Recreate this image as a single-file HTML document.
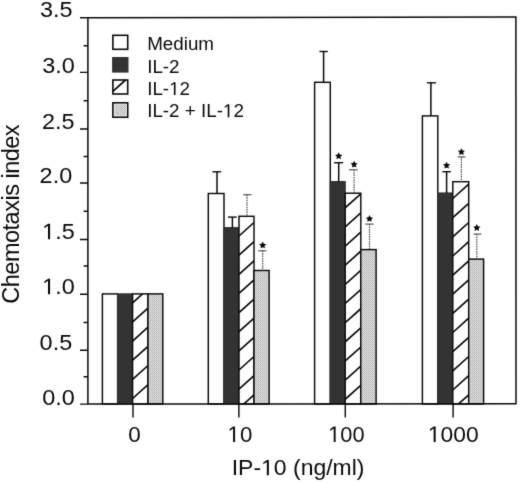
<!DOCTYPE html>
<html><head><meta charset="utf-8"><title>Chemotaxis index</title>
<style>html,body{margin:0;padding:0;background:#fff;}body{width:520px;height:483px;overflow:hidden;}svg{display:block;}text{font-family:"Liberation Sans",sans-serif;fill:#0a0a0a;font-kerning:none;white-space:pre;}</style>
</head><body>
<svg width="520" height="483" viewBox="0 0 520 483">
<defs>
<pattern id="dots" width="2" height="2" patternUnits="userSpaceOnUse"><rect width="2" height="2" fill="#dedede"/><rect width="1" height="1" fill="#b0b0b0"/><rect x="1" y="1" width="1" height="1" fill="#c4c4c4"/></pattern>
</defs>
<filter id="soft" x="0" y="0" width="520" height="483" filterUnits="userSpaceOnUse" color-interpolation-filters="sRGB"><feConvolveMatrix order="3" kernelMatrix="0.0113 0.0838 0.0113 0.0838 0.6193 0.0838 0.0113 0.0838 0.0113" edgeMode="duplicate" preserveAlpha="true"/></filter>
<g filter="url(#soft)">
<rect x="-5" y="-5" width="530" height="493" fill="#ffffff"/>
<rect x="102.4" y="293.9" width="15.2" height="110.1" fill="#fff" stroke="#0a0a0a" stroke-width="1.45"/>
<rect x="117.6" y="293.9" width="15.0" height="110.1" fill="#333333" stroke="#333333" stroke-width="1.2"/>
<clipPath id="c1"><rect x="132.6" y="293.9" width="15.4" height="110.1"/></clipPath>
<rect x="132.6" y="293.9" width="15.4" height="110.1" fill="#fff" stroke="#0a0a0a" stroke-width="1.45"/>
<path d="M132.6 302.8L148.0 288.9M132.6 321.9L148.0 308.1M132.6 341.1L148.0 327.2M132.6 360.2L148.0 346.4M132.6 379.4L148.0 365.5M132.6 398.5L148.0 384.7M132.6 417.7L148.0 403.8" stroke="#0a0a0a" stroke-width="1.65" fill="none" clip-path="url(#c1)"/>
<rect x="148.0" y="293.9" width="14.8" height="110.1" fill="url(#dots)" stroke="#0a0a0a" stroke-width="1.45"/>
<rect x="208.3" y="193.5" width="15.7" height="210.5" fill="#fff" stroke="#0a0a0a" stroke-width="1.45"/>
<rect x="224.0" y="227.7" width="15.0" height="176.3" fill="#333333" stroke="#333333" stroke-width="1.2"/>
<clipPath id="c2"><rect x="239.0" y="216.3" width="15.0" height="187.7"/></clipPath>
<rect x="239.0" y="216.3" width="15.0" height="187.7" fill="#fff" stroke="#0a0a0a" stroke-width="1.45"/>
<path d="M239.0 216.8L254.0 203.3M239.0 236.0L254.0 222.5M239.0 255.2L254.0 241.7M239.0 274.3L254.0 260.8M239.0 293.4L254.0 279.9M239.0 312.6L254.0 299.1M239.0 331.7L254.0 318.2M239.0 350.9L254.0 337.4M239.0 370.0L254.0 356.5M239.0 389.2L254.0 375.7M239.0 408.3L254.0 394.8" stroke="#0a0a0a" stroke-width="1.65" fill="none" clip-path="url(#c2)"/>
<rect x="254.0" y="270.5" width="15.1" height="133.5" fill="url(#dots)" stroke="#0a0a0a" stroke-width="1.45"/>
<rect x="314.6" y="82.3" width="15.7" height="321.7" fill="#fff" stroke="#0a0a0a" stroke-width="1.45"/>
<rect x="330.3" y="181.6" width="14.9" height="222.4" fill="#333333" stroke="#333333" stroke-width="1.2"/>
<clipPath id="c3"><rect x="345.2" y="193.2" width="15.6" height="210.8"/></clipPath>
<rect x="345.2" y="193.2" width="15.6" height="210.8" fill="#fff" stroke="#0a0a0a" stroke-width="1.45"/>
<path d="M345.2 207.8L360.8 193.8M345.2 227.0L360.8 212.9M345.2 246.1L360.8 232.1M345.2 265.2L360.8 251.2M345.2 284.4L360.8 270.4M345.2 303.5L360.8 289.5M345.2 322.7L360.8 308.7M345.2 341.8L360.8 327.8M345.2 361.0L360.8 347.0M345.2 380.1L360.8 366.1M345.2 399.3L360.8 385.3M345.2 418.4L360.8 404.4" stroke="#0a0a0a" stroke-width="1.65" fill="none" clip-path="url(#c3)"/>
<rect x="360.8" y="249.6" width="15.3" height="154.4" fill="url(#dots)" stroke="#0a0a0a" stroke-width="1.45"/>
<rect x="422.4" y="115.9" width="15.4" height="288.1" fill="#fff" stroke="#0a0a0a" stroke-width="1.45"/>
<rect x="437.8" y="193.0" width="15.0" height="211.0" fill="#333333" stroke="#333333" stroke-width="1.2"/>
<clipPath id="c4"><rect x="452.8" y="181.7" width="15.9" height="222.3"/></clipPath>
<rect x="452.8" y="181.7" width="15.9" height="222.3" fill="#fff" stroke="#0a0a0a" stroke-width="1.45"/>
<path d="M452.8 198.5L468.7 184.2M452.8 217.7L468.7 203.3M452.8 236.8L468.7 222.5M452.8 256.0L468.7 241.6M452.8 275.1L468.7 260.8M452.8 294.2L468.7 279.9M452.8 313.4L468.7 299.1M452.8 332.5L468.7 318.2M452.8 351.7L468.7 337.4M452.8 370.8L468.7 356.5M452.8 390.0L468.7 375.7M452.8 409.1L468.7 394.8" stroke="#0a0a0a" stroke-width="1.65" fill="none" clip-path="url(#c4)"/>
<rect x="468.7" y="259.1" width="14.9" height="144.9" fill="url(#dots)" stroke="#0a0a0a" stroke-width="1.45"/>
<line x1="217.0" y1="171.8" x2="217.0" y2="193.5" stroke="#0a0a0a" stroke-width="1.5"/>
<line x1="212.5" y1="171.8" x2="221.2" y2="171.8" stroke="#0a0a0a" stroke-width="1.4"/>
<line x1="232.4" y1="217.1" x2="232.4" y2="227.7" stroke="#0a0a0a" stroke-width="1.5"/>
<line x1="228.0" y1="217.1" x2="236.7" y2="217.1" stroke="#0a0a0a" stroke-width="1.4"/>
<line x1="247.0" y1="194.7" x2="247.0" y2="216.3" stroke="#4a4a4a" stroke-width="1.2" stroke-dasharray="1.5 0.9"/>
<line x1="243.2" y1="194.7" x2="251.5" y2="194.7" stroke="#555" stroke-width="1.2"/>
<line x1="262.7" y1="250.8" x2="262.7" y2="270.5" stroke="#4a4a4a" stroke-width="1.2" stroke-dasharray="1.5 0.9"/>
<line x1="258.4" y1="250.8" x2="266.5" y2="250.8" stroke="#555" stroke-width="1.2"/>
<polygon points="262.70,241.50 263.82,243.76 266.31,244.13 264.51,245.89 264.93,248.37 262.70,247.20 260.47,248.37 260.89,245.89 259.09,244.13 261.58,243.76" fill="#0a0a0a"/>
<line x1="323.6" y1="51.5" x2="323.6" y2="82.3" stroke="#0a0a0a" stroke-width="1.5"/>
<line x1="319.4" y1="51.5" x2="327.8" y2="51.5" stroke="#0a0a0a" stroke-width="1.4"/>
<line x1="338.7" y1="162.7" x2="338.7" y2="181.6" stroke="#0a0a0a" stroke-width="1.5"/>
<line x1="334.1" y1="162.7" x2="343.1" y2="162.7" stroke="#0a0a0a" stroke-width="1.4"/>
<polygon points="338.70,152.30 339.82,154.56 342.31,154.93 340.51,156.69 340.93,159.17 338.70,158.00 336.47,159.17 336.89,156.69 335.09,154.93 337.58,154.56" fill="#0a0a0a"/>
<line x1="354.1" y1="169.8" x2="354.1" y2="193.2" stroke="#4a4a4a" stroke-width="1.2" stroke-dasharray="1.5 0.9"/>
<line x1="349.1" y1="169.8" x2="357.7" y2="169.8" stroke="#555" stroke-width="1.2"/>
<polygon points="354.10,160.70 355.22,162.96 357.71,163.33 355.91,165.09 356.33,167.57 354.10,166.40 351.87,167.57 352.29,165.09 350.49,163.33 352.98,162.96" fill="#0a0a0a"/>
<line x1="369.5" y1="224.1" x2="369.5" y2="249.7" stroke="#4a4a4a" stroke-width="1.2" stroke-dasharray="1.5 0.9"/>
<line x1="365.3" y1="224.1" x2="373.7" y2="224.1" stroke="#555" stroke-width="1.2"/>
<polygon points="369.50,215.00 370.62,217.26 373.11,217.63 371.31,219.39 371.73,221.87 369.50,220.70 367.27,221.87 367.69,219.39 365.89,217.63 368.38,217.26" fill="#0a0a0a"/>
<line x1="430.9" y1="82.8" x2="430.9" y2="115.9" stroke="#0a0a0a" stroke-width="1.5"/>
<line x1="426.9" y1="82.8" x2="436.0" y2="82.8" stroke="#0a0a0a" stroke-width="1.4"/>
<line x1="446.6" y1="171.7" x2="446.6" y2="193.0" stroke="#0a0a0a" stroke-width="1.5"/>
<line x1="442.4" y1="171.7" x2="450.8" y2="171.7" stroke="#0a0a0a" stroke-width="1.4"/>
<polygon points="446.60,161.70 447.72,163.96 450.21,164.33 448.41,166.09 448.83,168.57 446.60,167.40 444.37,168.57 444.79,166.09 442.99,164.33 445.48,163.96" fill="#0a0a0a"/>
<line x1="461.4" y1="156.9" x2="461.4" y2="181.7" stroke="#4a4a4a" stroke-width="1.2" stroke-dasharray="1.5 0.9"/>
<line x1="457.6" y1="156.9" x2="465.4" y2="156.9" stroke="#555" stroke-width="1.2"/>
<polygon points="461.40,148.20 462.52,150.46 465.01,150.83 463.21,152.59 463.63,155.07 461.40,153.90 459.17,155.07 459.59,152.59 457.79,150.83 460.28,150.46" fill="#0a0a0a"/>
<line x1="476.8" y1="234.1" x2="476.8" y2="259.1" stroke="#4a4a4a" stroke-width="1.2" stroke-dasharray="1.5 0.9"/>
<line x1="473.6" y1="234.1" x2="481.3" y2="234.1" stroke="#555" stroke-width="1.2"/>
<polygon points="476.80,224.10 477.92,226.36 480.41,226.73 478.61,228.49 479.03,230.97 476.80,229.80 474.57,230.97 474.99,228.49 473.19,226.73 475.68,226.36" fill="#0a0a0a"/>
<path d="M87.9 17.8L515.9 17.1L516 403.8L87.9 404.1Z" fill="none" stroke="#0a0a0a" stroke-width="1.5"/>
<path d="M80 404.10L88 404.10M80 350.20L88 350.20M80 294.30L88 294.30M80 239.50L88 239.50M80 183.00L88 183.00M80 129.00L88 129.00M80 72.40L88 72.40M80 17.80L88 17.80M83.6 376.80L88 376.80M83.6 322.50L88 322.50M83.6 266.00L88 266.00M83.6 211.30L88 211.30M83.6 156.50L88 156.50M83.6 100.70L88 100.70M83.6 45.80L88 45.80" stroke="#0a0a0a" stroke-width="1.4" fill="none"/>
<path d="M133.0 404L133.0 417.4M238.9 404L238.9 417.4M345.3 404L345.3 417.4M453.1 404L453.1 417.4" stroke="#0a0a0a" stroke-width="1.4" fill="none"/>
<g transform="translate(42.20 404.50) scale(1.0423 1)"><text x="0.00" y="0" font-size="22.5">0.0</text></g>
<g transform="translate(39.60 350.40) scale(1.0423 1)"><text x="0.00" y="0" font-size="22.5">0.5</text></g>
<g transform="translate(42.10 294.30) scale(1.0423 1)"><path transform="translate(0.00 0) scale(0.01099 -0.01099)" d="M515 0V1237L197 1010V1180L530 1409H696V0Z" fill="#0a0a0a"/><text x="12.51" y="0" font-size="22.5">.0</text></g>
<g transform="translate(42.10 239.30) scale(1.0423 1)"><path transform="translate(0.00 0) scale(0.01099 -0.01099)" d="M515 0V1237L197 1010V1180L530 1409H696V0Z" fill="#0a0a0a"/><text x="12.51" y="0" font-size="22.5">.5</text></g>
<g transform="translate(39.60 182.80) scale(1.0423 1)"><text x="0.00" y="0" font-size="22.5">2.0</text></g>
<g transform="translate(41.90 128.60) scale(1.0423 1)"><text x="0.00" y="0" font-size="22.5">2.5</text></g>
<g transform="translate(42.20 72.60) scale(1.0423 1)"><text x="0.00" y="0" font-size="22.5">3.0</text></g>
<g transform="translate(40.00 17.30) scale(1.0423 1)"><text x="0.00" y="0" font-size="22.5">3.5</text></g>
<g transform="translate(128.15 442.00) scale(0.9989 1)"><text x="0.00" y="0" font-size="22.5">0</text></g>
<g transform="translate(227.50 442.00) scale(0.9909 1)"><path transform="translate(0.00 0) scale(0.01099 -0.01099)" d="M515 0V1237L197 1010V1180L530 1409H696V0Z" fill="#0a0a0a"/><text x="12.51" y="0" font-size="22.5">0</text></g>
<g transform="translate(328.20 442.00) scale(0.9696 1)"><path transform="translate(0.00 0) scale(0.01099 -0.01099)" d="M515 0V1237L197 1010V1180L530 1409H696V0Z" fill="#0a0a0a"/><text x="12.51" y="0" font-size="22.5">00</text></g>
<g transform="translate(427.90 442.00) scale(1.0149 1)"><path transform="translate(0.00 0) scale(0.01099 -0.01099)" d="M515 0V1237L197 1010V1180L530 1409H696V0Z" fill="#0a0a0a"/><text x="12.51" y="0" font-size="22.5">000</text></g>
<g transform="translate(231.70 475.20) scale(1.0445 1)"><text x="0.00" y="0" font-size="22">IP-</text><path transform="translate(28.11 0) scale(0.01074 -0.01074)" d="M515 0V1237L197 1010V1180L530 1409H696V0Z" fill="#0a0a0a"/><text x="40.35" y="0" font-size="22">0 (ng/ml)</text></g>
<text transform="translate(19.4 303.7) rotate(-90)" font-size="23.5" textLength="179.3" lengthAdjust="spacing">Chemotaxis index</text>
<rect x="112.9" y="35.3" width="14.8" height="14.0" fill="#fff" stroke="#0a0a0a" stroke-width="1.6"/>
<g transform="translate(147.20 49.70)"><text x="0.00" y="0" font-size="18.8">Medium</text></g>
<rect x="112.9" y="57.8" width="14.8" height="14.0" fill="#333333" stroke="#333333" stroke-width="1.6"/>
<g transform="translate(147.20 72.60)"><text x="0.00" y="0" font-size="18.8">IL-2</text></g>
<rect x="112.9" y="80.0" width="14.8" height="14.0" fill="#fff" stroke="#0a0a0a" stroke-width="1.6"/>
<line x1="112.9" y1="91.4" x2="125.5" y2="80" stroke="#0a0a0a" stroke-width="1.7"/>
<g transform="translate(147.20 95.10)"><text x="0.00" y="0" font-size="18.8">IL-</text><path transform="translate(21.94 0) scale(0.00918 -0.00918)" d="M515 0V1237L197 1010V1180L530 1409H696V0Z" fill="#0a0a0a"/><text x="32.40" y="0" font-size="18.8">2</text></g>
<rect x="112.9" y="102.8" width="14.8" height="14.4" fill="#fff" stroke="#0a0a0a" stroke-width="1.6"/>
<rect x="114.5" y="104.4" width="11.6" height="11.2" fill="url(#dots)"/>
<g transform="translate(147.20 117.30)"><text x="0.00" y="0" font-size="18.8">IL-2 + IL-</text><path transform="translate(75.76 0) scale(0.00918 -0.00918)" d="M515 0V1237L197 1010V1180L530 1409H696V0Z" fill="#0a0a0a"/><text x="86.22" y="0" font-size="18.8">2</text></g>
</g></svg></body></html>
